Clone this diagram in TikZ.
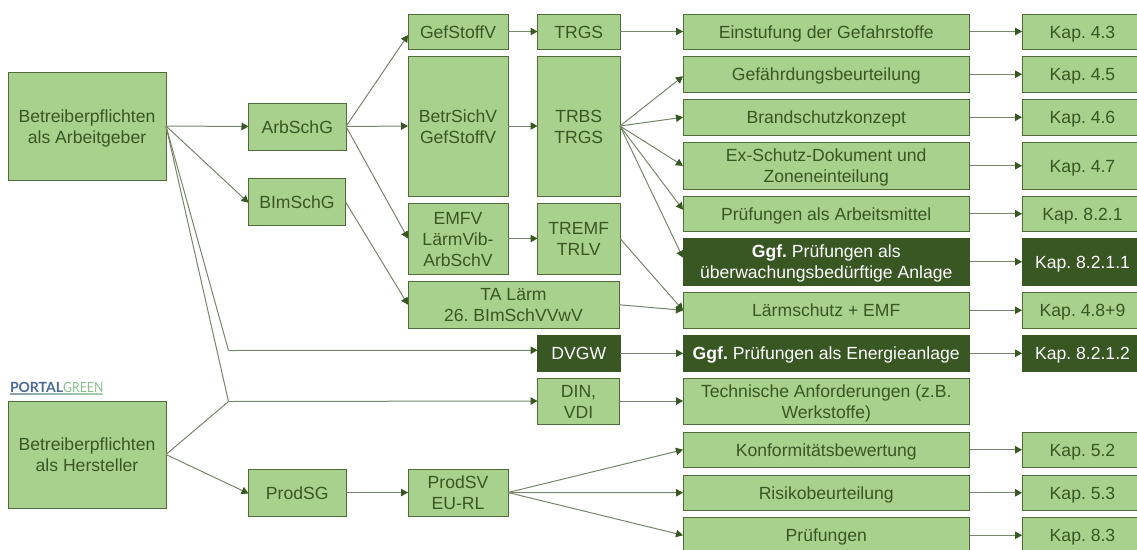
\documentclass[tikz,border=0pt]{standalone}
\usepackage{fontspec}
\setmainfont{Liberation Sans}
\newfontfamily\logofont{Lato}
\usetikzlibrary{arrows.meta}
\definecolor{lightg}{HTML}{A9D18E}
\definecolor{darkg}{HTML}{385723}
\definecolor{edgeg}{HTML}{4F6C38}
\definecolor{lineg}{HTML}{75866A}
\definecolor{logob}{HTML}{4A6A94}
\definecolor{logog}{HTML}{86C08A}
\definecolor{logoub}{HTML}{8C9DB8}
\definecolor{logoug}{HTML}{A4D4A4}
\newcommand{\bx}[7][lbox]{\node[#1,minimum width={(#4)-(#2)},minimum height={(#5)-(#3)}] (#6) at ({((#2)+(#4))/2},{((#3)+(#5))/2}) {\rule{0pt}{17pt}#7\rule[-4pt]{0pt}{4pt}};}
\tikzset{
  lbox/.style={draw=edgeg,line width=0.9pt,fill=lightg,text=darkg,align=center,inner sep=0pt,outer sep=0pt,font=\frenchspacing\fontsize{17.6}{21}\selectfont},
  dbox/.style={lbox,draw=darkg,fill=darkg,text=white},
  conn/.style={draw=lineg,line width=1pt,-{Triangle[length=7pt,width=7.5pt,color=darkg]}},
  plain/.style={draw=lineg,line width=1pt},
}
\begin{document}
\begin{tikzpicture}[x=1pt,y=-1pt]
\useasboundingbox (0,0) rectangle (1137,549);
\clip (0,0) rectangle (1137,549);
\bx{8}{72}{166}{180}{arb}{Betreiberpflichten\\als Arbeitgeber}
\bx{8}{401}{166}{508}{her}{Betreiberpflichten\\als Hersteller}
\bx{248.5}{103}{346}{150}{arbschg}{ArbSchG}
\bx{248.5}{178.5}{345.5}{225}{bimschg}{BImSchG}
\bx{248.5}{469}{346}{516}{prodsg}{ProdSG}
\bx{408}{14}{508}{49}{gefstoff}{GefStoffV}
\bx{408}{56}{508}{196}{betrsich}{BetrSichV\\GefStoffV}
\bx{408}{203}{508}{274}{emfv}{EMFV\\LärmVib-\\ArbSchV}
\bx{408}{281.5}{619}{328}{ta}{TA Lärm\\26. BImSchVVwV}
\bx{408}{469}{508}{516}{prodsv}{ProdSV\\EU-RL}
\bx{537.5}{14}{620}{49}{trgs}{TRGS}
\bx{537.5}{56}{620}{196}{trbs}{TRBS\\TRGS}
\bx{537.5}{203}{620}{274}{tremf}{TREMF\\TRLV}
\bx[dbox]{537.5}{335.5}{620}{371}{dvgw}{DVGW}
\bx{537.5}{378}{619.5}{424}{din}{DIN,\\VDI}
\bx{683}{14}{969.5}{49}{einst}{Einstufung der Gefahrstoffe}
\bx{683}{56.5}{969.5}{92}{gef}{Gefährdungsbeurteilung}
\bx{683}{99.5}{969.5}{135}{brand}{Brandschutzkonzept}
\bx{683}{142.5}{969.5}{189}{ex}{Ex-Schutz-Dokument und\\Zoneneinteilung}
\bx{683}{196}{969.5}{231.5}{pruef}{Prüfungen als Arbeitsmittel}
\bx[dbox]{683}{238.5}{969.5}{285}{ggf}{\textbf{Ggf.} Prüfungen als\\überwachungsbedürftige Anlage}
\bx{683}{292.5}{969.5}{328}{laerm}{Lärmschutz + EMF}
\bx[dbox]{683}{335.5}{969.5}{371}{energie}{\textbf{Ggf.} Prüfungen als Energieanlage}
\bx{683}{378}{969.5}{424}{tech}{Technische Anforderungen (z.B.\\Werkstoffe)}
\bx{683}{432}{969.5}{467.5}{konf}{Konformitätsbewertung}
\bx{683}{475}{969.5}{510.5}{risiko}{Risikobeurteilung}
\bx{683}{517.5}{969.5}{553}{pr}{Prüfungen}
\bx{1022}{14}{1143}{49}{k43}{Kap. 4.3}
\bx{1022}{56.5}{1143}{92}{k45}{Kap. 4.5}
\bx{1022}{99.5}{1143}{135}{k46}{Kap. 4.6}
\bx{1022}{142.5}{1143}{189}{k47}{Kap. 4.7}
\bx{1022}{196}{1143}{231.5}{k821}{Kap. 8.2.1}
\bx[dbox]{1022}{238.5}{1143}{285}{k8211}{Kap. 8.2.1.1}
\bx{1022}{292.5}{1143}{328}{k489}{Kap. 4.8+9}
\bx[dbox]{1022}{335.5}{1143}{371}{k8212}{Kap. 8.2.1.2}
\bx{1022}{432}{1143}{467.5}{k52}{Kap. 5.2}
\bx{1022}{475}{1143}{510.5}{k53}{Kap. 5.3}
\bx{1022}{517.5}{1143}{553}{k83}{Kap. 8.3}
% logo
\node[inner sep=0pt,outer sep=0pt,anchor=base west,font=\logofont\fontsize{14}{14}\selectfont] (logo) at (10,392.5) {\textcolor{logob}{\textbf{PORTAL}}\textcolor{logog}{\scalebox{0.88}[1]{GREEN}}};
\shade[left color=logoub,right color=logoug] (10,393.6) rectangle (103,394.8);
% junctions
\coordinate (j1) at (228.5,350.5);
\coordinate (j2) at (228.5,401.5);
% connectors
\draw[conn] (arb.east) -- (arbschg.west);
\draw[conn] (arb.east) -- ([yshift=-1pt]bimschg.west);
\draw[plain] (arb.east) -- (j1);
\draw[plain] (arb.east) -- (j2);
\draw[plain] (her.east) -- (j2);
\draw[conn] (j1) -- ([yshift=3pt]dvgw.west);
\draw[conn] (j2) -- (din.west);
\draw[conn] (her.east) -- ([yshift=-1pt]prodsg.west);
\draw[conn] (arbschg.east) -- ([yshift=-3.5pt]gefstoff.west);
\draw[conn] (arbschg.east) -- (betrsich.west);
\draw[conn] (arbschg.east) -- (emfv.west);
\draw[conn] (bimschg.east) -- (ta.west);
\draw[conn] (gefstoff.east) -- (trgs.west);
\draw[conn] (betrsich.east) -- (trbs.west);
\draw[conn] (emfv.east) -- (tremf.west);
\draw[conn] (trgs.east) -- (einst.west);
\draw[conn] (trbs.east) -- ([yshift=-2pt]gef.west);
\draw[conn] (trbs.east) -- (brand.west);
\draw[conn] (trbs.east) -- (ex.west);
\draw[conn] (trbs.east) -- ([yshift=4pt]pruef.west);
\draw[conn] (trbs.east) -- ([yshift=4pt]ggf.west);
\draw[conn] (tremf.east) -- (laerm.west);
\draw[conn] (ta.east) -- (laerm.west);
\draw[conn] (dvgw.east) -- (energie.west);
\draw[conn] (din.east) -- (tech.west);
\draw[conn] (prodsg.east) -- (prodsv.west);
\draw[conn] (prodsv.east) -- (konf.west);
\draw[conn] (prodsv.east) -- (risiko.west);
\draw[conn] (prodsv.east) -- (pr.west);
\draw[conn] (einst.east) -- (k43.west);
\draw[conn] (gef.east) -- (k45.west);
\draw[conn] (brand.east) -- (k46.west);
\draw[conn] (ex.east) -- (k47.west);
\draw[conn] (pruef.east) -- (k821.west);
\draw[conn] (ggf.east) -- (k8211.west);
\draw[conn] (laerm.east) -- (k489.west);
\draw[conn] (energie.east) -- (k8212.west);
\draw[conn] (konf.east) -- (k52.west);
\draw[conn] (risiko.east) -- (k53.west);
\draw[conn] (pr.east) -- (k83.west);
\end{tikzpicture}
\end{document}
